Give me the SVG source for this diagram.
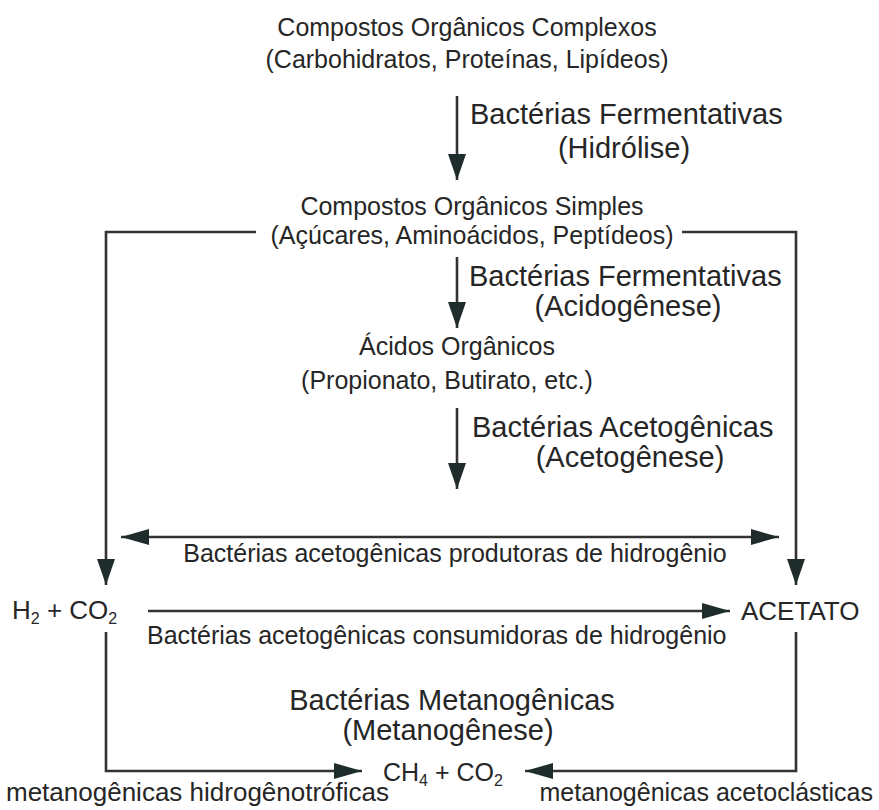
<svg xmlns="http://www.w3.org/2000/svg" width="879" height="810" viewBox="0 0 879 810">
<style>
text{font-family:"Liberation Sans",Arial,sans-serif;fill:#262626}
.s{font-size:25px}
.b{font-size:29px}
.c{text-anchor:middle}
.sub{font-size:16px}
.ln{stroke:#333;stroke-width:2.6;fill:none}
</style>
<defs>
<marker id="v" viewBox="0 0 10 10" refX="10" refY="5" markerWidth="26" markerHeight="18" markerUnits="userSpaceOnUse" orient="auto-start-reverse" preserveAspectRatio="none">
<path d="M0,0 L10,5 L0,10 z" fill="#1e2d2b"/>
</marker>
<marker id="h" viewBox="0 0 10 10" refX="10" refY="5" markerWidth="28" markerHeight="16" markerUnits="userSpaceOnUse" orient="auto-start-reverse" preserveAspectRatio="none">
<path d="M0,0 L10,5 L0,10 z" fill="#1e2d2b"/>
</marker>
</defs>
<rect width="879" height="810" fill="#fff"/>
<g id="complexos">
<text class="s c" x="467" y="36">Compostos Orgânicos Complexos</text>
<text class="s c" x="467" y="68">(Carbohidratos, Proteínas, Lipídeos)</text>
</g>
<g id="hidrolise">
<text class="b" x="470" y="124">Bactérias Fermentativas</text>
<text class="b c" x="624" y="158">(Hidrólise)</text>
</g>
<g id="simples">
<text class="s c" x="472" y="215">Compostos Orgânicos Simples</text>
<text class="s c" x="472" y="244">(Açúcares, Aminoácidos, Peptídeos)</text>
</g>
<g id="acidogenese">
<text class="b" x="469" y="286">Bactérias Fermentativas</text>
<text class="b c" x="628" y="316">(Acidogênese)</text>
</g>
<g id="acidos">
<text class="s c" x="457" y="355">Ácidos Orgânicos</text>
<text class="s c" x="447" y="389">(Propionato, Butirato, etc.)</text>
</g>
<g id="acetogenese">
<text class="b" x="472" y="437">Bactérias Acetogênicas</text>
<text class="b c" x="630" y="467">(Acetogênese)</text>
</g>
<g id="produtoras">
<text class="s c" x="455" y="562">Bactérias acetogênicas produtoras de hidrogênio</text>
</g>
<g id="h2co2">
<text class="s" x="12" y="619" style="font-size:26px">H<tspan class="sub" dy="5">2</tspan><tspan dy="-5"> + CO</tspan><tspan class="sub" dy="5">2</tspan></text>
</g>
<g id="acetato">
<text class="s" x="741" y="620" style="font-size:26px">ACETATO</text>
</g>
<g id="consumidoras">
<text class="s" x="147" y="644">Bactérias acetogênicas consumidoras de hidrogênio</text>
</g>
<g id="metanogenese">
<text class="b c" x="452" y="710">Bactérias Metanogênicas</text>
<text class="b c" x="448" y="740">(Metanogênese)</text>
</g>
<g id="ch4co2">
<text class="s" x="383" y="781">CH<tspan class="sub" dy="5">4</tspan><tspan dy="-5"> + CO</tspan><tspan class="sub" dy="5">2</tspan></text>
</g>
<g id="hidrogenotroficas">
<text class="s" x="6" y="801" style="font-size:26px">metanogênicas hidrogênotróficas</text>
</g>
<g id="acetoclasticas">
<text class="s" x="873" y="801" text-anchor="end">metanogênicas acetoclásticas</text>
</g>
<g id="connectors">
<path class="ln" d="M457,96 V180" marker-end="url(#v)"/>
<path class="ln" d="M457,257 V328" marker-end="url(#v)"/>
<path class="ln" d="M457,408 V489" marker-end="url(#v)"/>
<path class="ln" d="M256,232 H106 V585" marker-end="url(#v)"/>
<path class="ln" d="M682,232 H796 V585" marker-end="url(#v)"/>
<path class="ln" d="M121,537 H779" marker-start="url(#h)" marker-end="url(#h)"/>
<path class="ln" d="M148,611 H730" marker-end="url(#h)"/>
<path class="ln" d="M106,632 V771 H362" marker-end="url(#h)"/>
<path class="ln" d="M796,632 V771 H525" marker-end="url(#h)"/>
</g>
</svg>
